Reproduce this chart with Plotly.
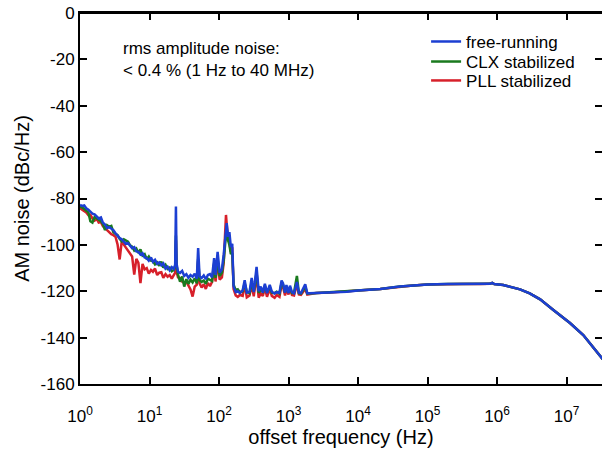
import plotly.graph_objects as go

# ---------------- data ----------------
# low-offset (noisy) region, Hz
freq_low = [1.00, 1.07, 1.15, 1.23, 1.32, 1.41, 1.51, 1.62, 1.74, 1.86,
            2.00, 2.14, 2.29, 2.45, 2.63, 2.82, 3.02, 3.24, 3.47, 3.72,
            3.98, 4.27, 4.57, 4.90, 5.25, 5.62, 6.03, 6.46, 6.92, 7.41,
            7.94, 8.51, 9.12, 9.77, 10.5, 11.2, 12.0, 12.9, 13.8, 14.8,
            15.8, 17.0, 18.2, 19.5, 20.9, 22.4, 23.4, 24.0, 24.5, 25.7,
            27.5, 29.5, 31.6, 33.9, 36.3, 38.9, 41.7, 44.7, 47.9, 50.1,
            52.5, 56.2, 60.3, 64.6, 69.2, 74.1, 79.4, 85.1, 89.1, 95.5,
            102, 110, 117, 123, 126, 129, 135, 141, 148, 155,
            162, 174, 186, 200, 219, 234, 251, 275, 295, 316,
            347, 372, 398, 427, 457, 490, 537, 575, 631, 676,
            741, 794, 832, 891, 933, 1000, 1050, 1120, 1200, 1320,
            1410, 1510, 1740, 1860, 2000]

free_low = [-82.8, -83.2, -83.0, -84.2, -84.8, -85.5, -86.5, -86.8, -87.6, -88.6,
            -88.2, -90.5, -91.2, -92.7, -92.4, -93.0, -93.6, -95.0, -96.2, -97.1,
            -97.6, -98.4, -99.6, -99.2, -100.6, -101.4, -101.0, -102.8, -103.0, -104.2,
            -103.6, -105.4, -105.7, -106.8, -105.4, -107.3, -106.4, -108.2, -107.6, -108.8,
            -108.0, -110.2, -109.4, -111.0, -109.6, -110.4, -108.6, -83.5, -108.0, -111.6,
            -112.1, -111.2, -113.4, -112.6, -114.2, -113.0, -113.7, -112.4, -114.6, -101.4,
            -113.6, -114.3, -113.2, -114.8, -113.0, -112.6, -114.0, -105.7, -113.0, -103.0,
            -112.0, -110.5, -104.0, -97.0, -92.7, -90.6, -96.5, -94.5, -101.0, -99.5,
            -118.0, -120.4, -120.0, -120.8, -119.6, -115.2, -120.6, -120.2, -114.3, -120.4,
            -109.5, -120.0, -118.0, -120.6, -116.8, -120.8, -117.3, -120.2, -121.0, -120.4,
            -120.6, -115.4, -116.5, -120.6, -117.3, -120.8, -117.6, -120.4, -120.9, -116.0,
            -120.6, -120.8, -117.0, -120.9, -120.9]

clx_low = [-83.5, -83.8, -84.5, -85.2, -86.0, -89.8, -90.4, -88.0, -88.5, -89.2,
           -89.8, -91.0, -93.6, -91.5, -92.2, -91.8, -94.5, -95.2, -95.8, -97.4,
           -98.5, -97.6, -98.0, -98.6, -100.2, -100.8, -102.4, -101.6, -103.5, -102.0,
           -104.6, -104.0, -106.2, -105.0, -106.8, -107.0, -108.4, -107.6, -109.0, -107.2,
           -109.8, -108.6, -110.4, -109.8, -111.4, -110.8, -109.2, -96.0, -108.8, -112.8,
           -115.9, -113.6, -118.0, -114.8, -116.8, -115.0, -116.2, -114.4, -116.6, -106.0,
           -115.2, -116.0, -115.4, -116.8, -114.6, -115.0, -115.6, -108.0, -114.2, -106.0,
           -113.4, -112.0, -106.5, -99.0, -95.5, -93.0, -98.0, -100.0, -104.0, -103.5,
           -117.2, -119.6, -119.2, -120.4, -120.0, -116.5, -120.2, -120.8, -116.0, -120.0,
           -112.0, -120.6, -119.4, -120.2, -117.6, -120.4, -118.2, -120.6, -120.8, -120.2,
           -121.0, -116.4, -117.0, -120.4, -118.0, -120.6, -118.4, -120.8, -120.6, -113.4,
           -120.8, -121.0, -118.0, -121.0, -121.0]

pll_low = [-84.2, -84.8, -85.6, -86.0, -87.2, -87.0, -88.6, -89.5, -88.8, -90.4,
           -90.2, -92.0, -92.8, -93.8, -94.6, -95.4, -95.8, -96.5, -99.8, -106.3,
           -98.6, -100.0, -101.4, -102.6, -103.8, -105.0, -112.8, -106.0, -107.8, -116.5,
           -108.2, -110.6, -110.0, -112.4, -110.8, -111.6, -110.2, -113.0, -112.0, -111.8,
           -114.2, -112.6, -113.7, -113.0, -114.6, -113.2, -112.0, -98.0, -111.5, -114.0,
           -114.3, -115.8, -116.4, -115.9, -117.8, -119.2, -122.3, -118.0, -117.2, -107.0,
           -116.6, -118.4, -117.0, -119.0, -116.4, -117.8, -116.0, -109.0, -115.8, -107.0,
           -115.0, -114.0, -107.5, -95.0, -87.1, -91.0, -97.5, -99.0, -103.0, -101.0,
           -119.0, -121.8, -122.4, -121.6, -122.0, -117.0, -122.6, -121.8, -117.0, -122.2,
           -113.0, -122.8, -121.0, -122.0, -118.5, -122.4, -119.0, -122.0, -122.8, -121.6,
           -122.4, -117.2, -118.0, -121.8, -119.0, -121.4, -119.0, -121.6, -121.8, -117.0,
           -121.4, -121.6, -119.0, -121.4, -121.2]

# high-offset (smooth) region, common to all three curves
freq_high = [2510, 3980, 6920, 1.0e4, 2.09e4, 3.98e4, 6.17e4, 1.0e5, 1.905e5, 3.16e5,
             5.75e5, 7.94e5, 8.51e5, 9.12e5, 1.23e6, 1.58e6, 2.14e6, 2.95e6, 4.17e6, 6.46e6,
             1.12e7, 1.74e7, 2.40e7, 2.82e7, 3.24e7, 3.63e7]
noise_high = [-120.8, -120.5, -120.2, -119.7, -119.0, -118.0, -117.5, -117.1, -116.9, -116.9,
              -116.9, -116.8, -116.4, -116.9, -117.3, -118.1, -119.2, -120.9, -123.5, -128.1,
              -133.7, -138.9, -143.9, -146.7, -148.8, -150.8]

series_names = ["PLL stabilized", "CLX stabilized", "free-running"]
series_low = [pll_low, clx_low, free_low]
series_colors = ["#d7202a", "#1a7a1e", "#1c3fd2"]
series_legend = ["legend3", "legend2", "legend"]

x_tick_vals = [1, 10, 100, 1e3, 1e4, 1e5, 1e6, 1e7]
x_tick_text = ["10<sup>0</sup>", "10<sup>1</sup>", "10<sup>2</sup>", "10<sup>3</sup>",
               "10<sup>4</sup>", "10<sup>5</sup>", "10<sup>6</sup>", "10<sup>7</sup>"]
y_tick_vals = [0, -20, -40, -60, -80, -100, -120, -140, -160]
y_tick_text = ["0", "-20", "-40", "-60", "-80", "-100", "-120", "-140", "-160"]

# ---------------- figure ----------------
FONT = "Liberation Sans, Arial, sans-serif"
fig = go.Figure()
for name, low, col, lg in zip(series_names, series_low, series_colors, series_legend):
    fig.add_trace(go.Scatter(
        x=freq_low + freq_high, y=low + noise_high, mode="lines", name=name,
        line=dict(color=col, width=2.5), hoverinfo="skip", legend=lg))

legend_common = dict(x=0.663, xanchor="left", yanchor="middle",
                     bgcolor="rgba(0,0,0,0)", font=dict(size=17), itemwidth=30)

fig.update_layout(
    width=602, height=449,
    margin=dict(l=80, r=0, t=13, b=65),
    paper_bgcolor="white", plot_bgcolor="white",
    font=dict(family=FONT, size=17, color="black"),
    showlegend=True,
    legend=dict(y=0.922, **legend_common),
    legend2=dict(y=0.868, **legend_common),
    legend3=dict(y=0.817, **legend_common),
    xaxis=dict(type="log", range=[0, 7.51], tickvals=x_tick_vals, ticktext=x_tick_text,
               ticks="inside", ticklen=7, tickwidth=2, tickcolor="black",
               showline=True, linewidth=2, linecolor="black", mirror="ticks",
               showgrid=False, zeroline=False, automargin=False, ticklabelstandoff=16,
               ticklabeloverflow="allow",
               title=dict(text="offset frequency (Hz)", standoff=4)),
    yaxis=dict(range=[-160, 0], tickvals=y_tick_vals, ticktext=y_tick_text,
               ticks="inside", ticklen=7, tickwidth=2, tickcolor="black",
               showline=True, linewidth=2, linecolor="black", mirror="ticks",
               showgrid=False, zeroline=False, automargin=False,
               ticklabeloverflow="allow",
               title=dict(text="AM noise (dBc/Hz)", standoff=6)),
    # frame line along the top of the plotting area (axis frame, not data)
    shapes=[dict(type="line", xref="paper", yref="paper", x0=0, x1=1, y0=1, y1=1,
                 line=dict(color="black", width=2), layer="above")],
    annotations=[dict(text="rms amplitude noise:<br>< 0.4 % (1 Hz to 40 MHz)",
                      xref="paper", yref="paper", x=0.078, y=0.935,
                      xanchor="left", yanchor="top", align="left", showarrow=False,
                      font=dict(size=17))],
)

# the page's default 8px body margin would shift the figure; remove it
fig.write_html("out.html", config={"displayModeBar": False},
               post_script="document.body.style.margin='0px';"
                           "document.documentElement.style.overflow='hidden';")
